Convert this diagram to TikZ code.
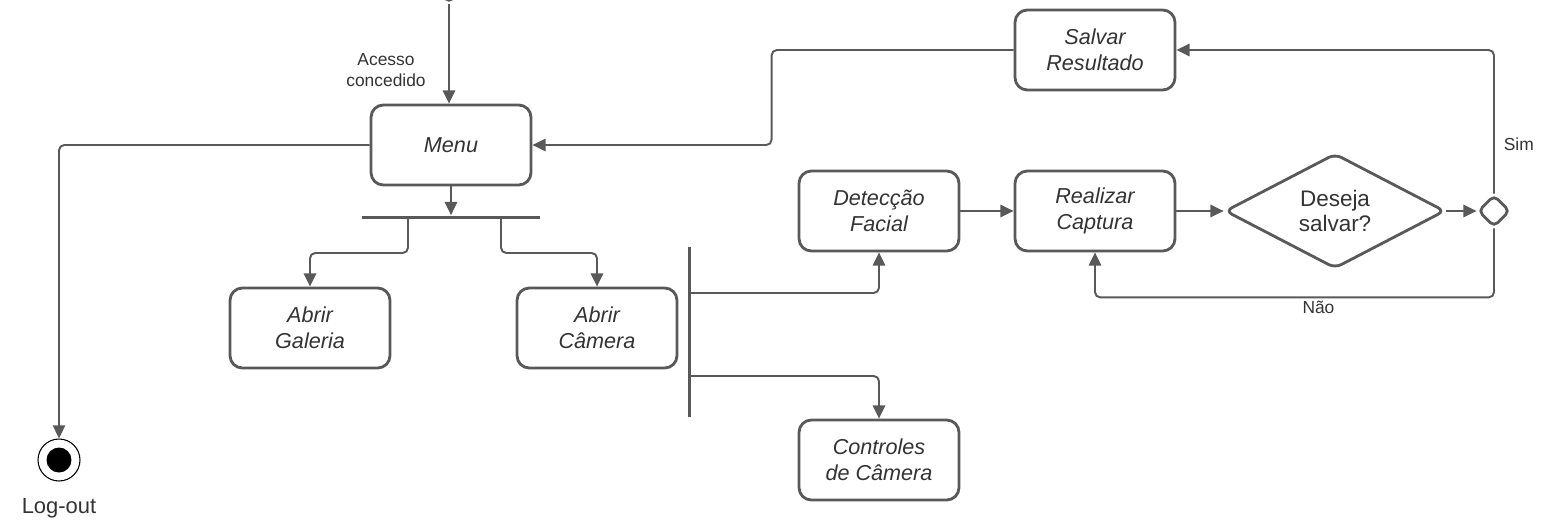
\documentclass[tikz,border=0pt]{standalone}
\usepackage{fontspec}
\setmainfont{Liberation Sans}
\usetikzlibrary{ shapes.geometric, % For the decision diamonds
                 arrows.meta,
                 positioning,      % For easy node-relative placements
               }
\definecolor{linha}{HTML}{595959}
\definecolor{texto}{HTML}{333333}
\tikzstyle{flow} = [-{Triangle[length=7.5pt,width=7pt]}, draw=linha, line width=1.1pt, rounded corners=3pt]
\tikzstyle{activity} = [rectangle, rounded corners=7pt, draw=linha, line width=1.6pt, minimum width=3.2cm, minimum height=1.6cm, align=center, text=texto, font=\fontsize{12.3}{14.7}\selectfont\itshape]
\tikzstyle{decision} = [diamond, rounded corners=4pt, draw=linha, line width=1.6pt, inner sep=0pt, align=center, text=texto, font=\fontsize{12.8}{14.7}\selectfont]
\tikzstyle{merge} = [diamond, rounded corners=3pt, draw=linha, line width=1.6pt, inner sep=0pt, minimum size=0.64cm]
\tikzstyle{bar} = [rectangle, fill=linha, inner sep=0pt]
\tikzstyle{note} = [text=texto, align=center, font=\fontsize{9.9}{11.6}\selectfont]

\begin{document}
\begin{tikzpicture}[x=0.02cm, y=-0.02cm]
  \useasboundingbox (0,0) rectangle (1548,531);

  \node (topo) [merge] at (449,-13) {};
  \node (acesso) [note] at (386,70) {Acesso\\concedido};

  \node (menu) [activity] at (451,145) {Menu};
  \node (fim) [circle, draw=black, line width=0.6pt, minimum size=0.84cm, inner sep=0pt,
               label={[note, font=\fontsize{12.5}{14}\selectfont, label distance=0.22cm]below:Log-out}] at (59,460) {};
  \node (fimc) [circle, fill=black, minimum size=0.5cm, inner sep=0pt] at (fim) {};

  \node (fork1) [bar, minimum width=3.56cm, minimum height=0.06cm] at (451,217) {};
  \node (gal) [activity] at (310,328) {Abrir\\Galeria};
  \node (cam) [activity] at (597,328) {Abrir\\Câmera};

  \node (fork2) [bar, minimum width=0.06cm, minimum height=3.42cm] at (689,332) {};
  \node (det) [activity] at (879,211) {Detecção\\Facial};
  \node (ctrl) [activity] at (879,460) {Controles\\de Câmera};
  \node (real) [activity] at (1095,211) {Realizar\\Captura};
  \node (salvar) [activity] at (1095,50) {Salvar\\Resultado};

  \node (pergunta) [decision, minimum width=4.4cm, minimum height=2.24cm] at (1335,211) {Deseja\\salvar?};
  \node (dec) [merge] at (1494,211) {};

  \coordinate (k1) at (408,217);
  \coordinate (k2) at (501,217);
  \coordinate (k3) at (689,293);
  \coordinate (k4) at (689,376);

  \draw [flow] (topo.south) -- (topo.south |- menu.north);
  \draw [flow] (menu.west) -| (fim.north);
  \draw [flow] (menu.south) -- (fork1.north);
  \draw [flow] (k1) -- ++(0,36) -| (gal.north);
  \draw [flow] (k2) -- ++(0,36) -| (cam.north);
  \draw [flow] (k3) -| (det.south);
  \draw [flow] (k4) -| (ctrl.north);
  \draw [flow] (det.east) -- (real.west);
  \draw [flow] (real.east) -- (pergunta.west);
  \draw [flow] (pergunta.east) -- (dec.west);
  \draw [flow] (dec.north) |- node [note, pos=0.17, right=0.06cm] {Sim} (salvar.east);
  \draw [flow] (dec.south) -- ++(0,69) -| node [note, pos=0.22, below=-0.06cm] {Não} (real.south);
  \draw [flow] (salvar.west) -- ++(-242,0) |- (menu.east);
\end{tikzpicture}
\end{document}
